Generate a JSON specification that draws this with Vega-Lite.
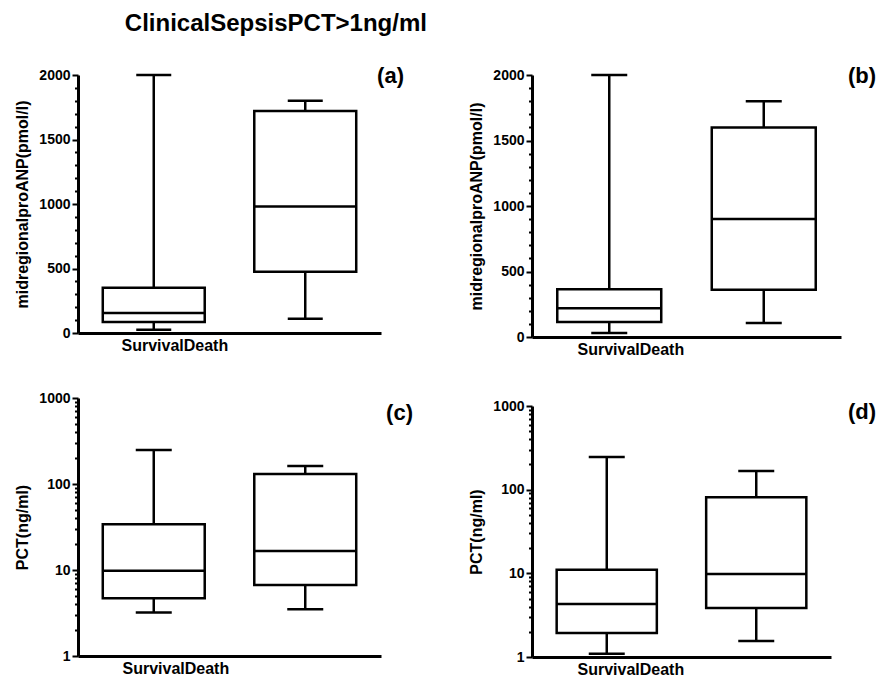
{
  "$schema": "https://vega.github.io/schema/vega-lite/v6.json",
  "background": "white",
  "padding": {"left": 14, "top": 12, "right": 0, "bottom": 0},
  "title": {"text": "ClinicalSepsisPCT>1ng/ml", "anchor": "start", "dx": 110, "fontSize": 24, "fontWeight": "bold", "color": "black", "font": "Liberation Sans", "offset": 29},
  "spacing": 55,
  "hconcat": [
    {
      "spacing": 38,
      "vconcat": [
        {
          "width": 303, "height": 258,
          "title": {"text": "(a)", "anchor": "end", "frame": "group", "dx": 23, "offset": -20},
          "data": {"values": [
            {"group": "Survival", "min": 25, "q1": 85, "median": 155, "q3": 350, "max": 2000},
            {"group": "Death", "min": 110, "q1": 475, "median": 980, "q3": 1720, "max": 1800}
          ]},
          "encoding": {"x": {"field": "group", "type": "nominal", "sort": ["Survival", "Death"], "scale": {"paddingInner": 0, "paddingOuter": 0}, "axis": {"title": "SurvivalDeath", "labels": false, "ticks": false, "titleAnchor": "start", "titleAlign": "left", "titleX": 43, "titlePadding": 4}}},
          "layer": [
            {"mark": {"type": "rule", "color": "black", "strokeWidth": 2.5}, "encoding": {"y": {"field": "min", "type": "quantitative", "scale": {"domain": [0, 2000]}, "axis": {"orient": "left", "values": [0, 500, 1000, 1500, 2000], "format": "d", "title": "midregionalproANP(pmol/l)"}}, "y2": {"field": "max"}}},
            {"mark": {"type": "bar", "fill": "white", "stroke": "black", "strokeWidth": 2.5, "width": {"band": 0.673}}, "encoding": {"y": {"field": "q1", "type": "quantitative", "axis": null}, "y2": {"field": "q3"}}},
            {"mark": {"type": "tick", "color": "black", "thickness": 2.5, "size": 102, "opacity": 1}, "encoding": {"y": {"field": "median", "type": "quantitative", "axis": null}}},
            {"mark": {"type": "tick", "color": "black", "thickness": 2.5, "size": 35, "opacity": 1}, "encoding": {"y": {"field": "max", "type": "quantitative", "axis": {"orient": "left", "values": [100, 200, 300, 400, 600, 700, 800, 900, 1100, 1200, 1300, 1400, 1600, 1700, 1800, 1900], "labels": false, "domain": false, "title": null, "tickSize": 3.5, "tickWidth": 2}}}},
            {"mark": {"type": "tick", "color": "black", "thickness": 2.5, "size": 35, "opacity": 1}, "encoding": {"y": {"field": "min", "type": "quantitative", "axis": null}}}
          ],
          "resolve": {"axis": {"y": "independent"}}
        },
        {
          "width": 303, "height": 258,
          "title": {"text": "(c)", "anchor": "end", "frame": "group", "dx": 32, "offset": -34},
          "data": {"values": [
            {"group": "Survival", "min": 3.2, "q1": 4.7, "median": 9.8, "q3": 34, "max": 248},
            {"group": "Death", "min": 3.5, "q1": 6.7, "median": 16.6, "q3": 131, "max": 162}
          ]},
          "encoding": {"x": {"field": "group", "type": "nominal", "sort": ["Survival", "Death"], "scale": {"paddingInner": 0, "paddingOuter": 0}, "axis": {"title": "SurvivalDeath", "labels": false, "ticks": false, "titleAnchor": "start", "titleAlign": "left", "titleX": 44, "titlePadding": 4}}},
          "layer": [
            {"mark": {"type": "rule", "color": "black", "strokeWidth": 2.5}, "encoding": {"y": {"field": "min", "type": "quantitative", "scale": {"type": "log", "domain": [1, 1000]}, "axis": {"orient": "left", "values": [1, 10, 100, 1000], "format": "d", "title": "PCT(ng/ml)"}}, "y2": {"field": "max"}}},
            {"mark": {"type": "bar", "fill": "white", "stroke": "black", "strokeWidth": 2.5, "width": {"band": 0.673}}, "encoding": {"y": {"field": "q1", "type": "quantitative", "axis": null}, "y2": {"field": "q3"}}},
            {"mark": {"type": "tick", "color": "black", "thickness": 2.5, "size": 101, "opacity": 1}, "encoding": {"y": {"field": "median", "type": "quantitative", "axis": null}}},
            {"mark": {"type": "tick", "color": "black", "thickness": 2.5, "size": 36, "opacity": 1}, "encoding": {"y": {"field": "max", "type": "quantitative", "axis": {"orient": "left", "values": [2, 3, 4, 5, 6, 7, 8, 9, 20, 30, 40, 50, 60, 70, 80, 90, 200, 300, 400, 500, 600, 700, 800, 900], "labels": false, "domain": false, "title": null, "tickSize": 3.5, "tickWidth": 2}}}},
            {"mark": {"type": "tick", "color": "black", "thickness": 2.5, "size": 36, "opacity": 1}, "encoding": {"y": {"field": "min", "type": "quantitative", "axis": null}}}
          ],
          "resolve": {"axis": {"y": "independent"}}
        }
      ]
    },
    {
      "spacing": 42,
      "vconcat": [
        {
          "width": 309, "height": 262,
          "title": {"text": "(b)", "anchor": "end", "frame": "group", "dx": 35, "offset": -20},
          "data": {"values": [
            {"group": "Survival", "min": 30, "q1": 115, "median": 220, "q3": 365, "max": 2000},
            {"group": "Death", "min": 107, "q1": 360, "median": 900, "q3": 1600, "max": 1800}
          ]},
          "encoding": {"x": {"field": "group", "type": "nominal", "sort": ["Survival", "Death"], "scale": {"paddingInner": 0, "paddingOuter": 0}, "axis": {"title": "SurvivalDeath", "labels": false, "ticks": false, "titleAnchor": "start", "titleAlign": "left", "titleX": 45, "titlePadding": 4}}},
          "layer": [
            {"mark": {"type": "rule", "color": "black", "strokeWidth": 2.5}, "encoding": {"y": {"field": "min", "type": "quantitative", "scale": {"domain": [0, 2000]}, "axis": {"orient": "left", "values": [0, 500, 1000, 1500, 2000], "format": "d", "title": "midregionalproANP(pmol/l)"}}, "y2": {"field": "max"}}},
            {"mark": {"type": "bar", "fill": "white", "stroke": "black", "strokeWidth": 2.5, "width": {"band": 0.673}}, "encoding": {"y": {"field": "q1", "type": "quantitative", "axis": null}, "y2": {"field": "q3"}}},
            {"mark": {"type": "tick", "color": "black", "thickness": 2.5, "size": 104, "opacity": 1}, "encoding": {"y": {"field": "median", "type": "quantitative", "axis": null}}},
            {"mark": {"type": "tick", "color": "black", "thickness": 2.5, "size": 36, "opacity": 1}, "encoding": {"y": {"field": "max", "type": "quantitative", "axis": {"orient": "left", "values": [100, 200, 300, 400, 600, 700, 800, 900, 1100, 1200, 1300, 1400, 1600, 1700, 1800, 1900], "labels": false, "domain": false, "title": null, "tickSize": 3.5, "tickWidth": 2}}}},
            {"mark": {"type": "tick", "color": "black", "thickness": 2.5, "size": 36, "opacity": 1}, "encoding": {"y": {"field": "min", "type": "quantitative", "axis": null}}}
          ],
          "resolve": {"axis": {"y": "independent"}}
        },
        {
          "width": 299, "height": 251,
          "title": {"text": "(d)", "anchor": "end", "frame": "group", "dx": 45, "offset": -25},
          "data": {"values": [
            {"group": "Survival", "min": 1.09, "q1": 1.94, "median": 4.3, "q3": 11, "max": 245},
            {"group": "Death", "min": 1.55, "q1": 3.85, "median": 9.8, "q3": 81, "max": 167}
          ]},
          "encoding": {"x": {"field": "group", "type": "nominal", "sort": ["Survival", "Death"], "scale": {"paddingInner": 0, "paddingOuter": 0}, "axis": {"title": "SurvivalDeath", "labels": false, "ticks": false, "titleAnchor": "start", "titleAlign": "left", "titleX": 45, "titlePadding": 4}}},
          "layer": [
            {"mark": {"type": "rule", "color": "black", "strokeWidth": 2.5}, "encoding": {"y": {"field": "min", "type": "quantitative", "scale": {"type": "log", "domain": [1, 1000]}, "axis": {"orient": "left", "values": [1, 10, 100, 1000], "format": "d", "title": "PCT(ng/ml)"}}, "y2": {"field": "max"}}},
            {"mark": {"type": "bar", "fill": "white", "stroke": "black", "strokeWidth": 2.5, "width": {"band": 0.67}}, "encoding": {"y": {"field": "q1", "type": "quantitative", "axis": null}, "y2": {"field": "q3"}}},
            {"mark": {"type": "tick", "color": "black", "thickness": 2.5, "size": 100, "opacity": 1}, "encoding": {"y": {"field": "median", "type": "quantitative", "axis": null}}},
            {"mark": {"type": "tick", "color": "black", "thickness": 2.5, "size": 36, "opacity": 1}, "encoding": {"y": {"field": "max", "type": "quantitative", "axis": {"orient": "left", "values": [2, 3, 4, 5, 6, 7, 8, 9, 20, 30, 40, 50, 60, 70, 80, 90, 200, 300, 400, 500, 600, 700, 800, 900], "labels": false, "domain": false, "title": null, "tickSize": 3.5, "tickWidth": 2}}}},
            {"mark": {"type": "tick", "color": "black", "thickness": 2.5, "size": 36, "opacity": 1}, "encoding": {"y": {"field": "min", "type": "quantitative", "axis": null}}}
          ],
          "resolve": {"axis": {"y": "independent"}}
        }
      ]
    }
  ],
  "config": {
    "font": "Liberation Sans",
    "view": {"stroke": null},
    "title": {"fontSize": 22, "fontWeight": "bold", "color": "black", "font": "Liberation Sans"},
    "axis": {
      "grid": false,
      "domainColor": "black",
      "domainWidth": 3,
      "tickColor": "black",
      "tickWidth": 2,
      "tickSize": 6,
      "labelFont": "Liberation Sans",
      "labelFontSize": 14,
      "labelFontWeight": "bold",
      "labelColor": "black",
      "labelPadding": 2,
      "titleFont": "Liberation Sans",
      "titleFontSize": 16,
      "titleFontWeight": "bold",
      "titleColor": "black",
      "titlePadding": 8
    }
  }
}
